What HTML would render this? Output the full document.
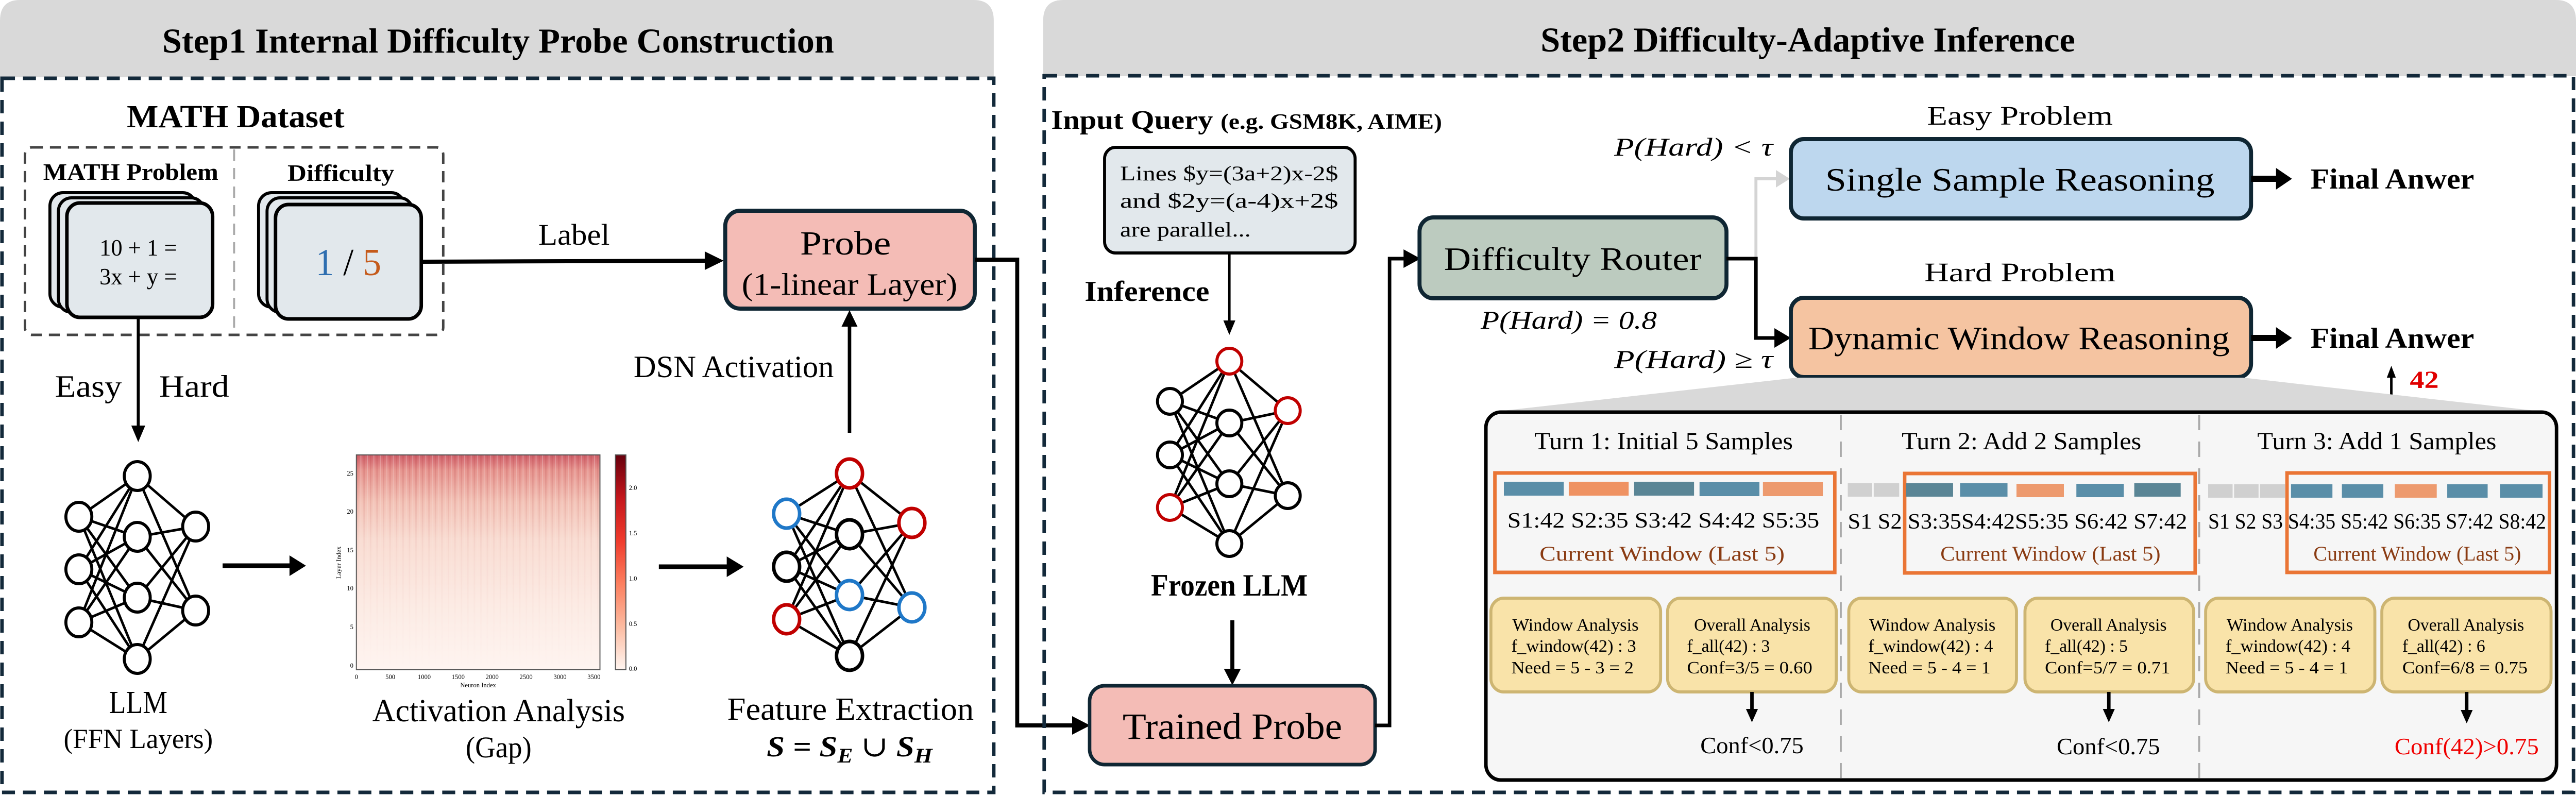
<!DOCTYPE html>
<html><head><meta charset="utf-8"><style>
html,body{margin:0;padding:0;background:#fff;overflow:hidden;width:100%;height:100%;}
svg{display:block;width:100vw;height:100vh;}
text{font-family:"Liberation Serif","DejaVu Serif",serif;fill:#000;}
</style></head><body>
<svg viewBox="0 0 5161 1545" preserveAspectRatio="none" xmlns="http://www.w3.org/2000/svg">
<defs>
<linearGradient id="hm" x1="0" y1="0" x2="0" y2="1">
<stop offset="0" stop-color="#d0606a"/><stop offset="0.07" stop-color="#e6958f"/><stop offset="0.22" stop-color="#f3c3b7"/><stop offset="0.4" stop-color="#f9ddd3"/><stop offset="0.7" stop-color="#fcebe4"/><stop offset="1" stop-color="#fef4f0"/>
</linearGradient>
<linearGradient id="cb" x1="0" y1="0" x2="0" y2="1">
<stop offset="0" stop-color="#67000d"/><stop offset="0.2" stop-color="#c4161c"/><stop offset="0.4" stop-color="#ef3b2c"/><stop offset="0.6" stop-color="#fc7f5f"/><stop offset="0.8" stop-color="#fcbba1"/><stop offset="1" stop-color="#fff5f0"/>
</linearGradient>
<pattern id="stripes" width="13" height="40" patternUnits="userSpaceOnUse">
<rect x="0" y="0" width="3" height="40" fill="#b0303a" opacity="0.18"/><rect x="7" y="0" width="2" height="40" fill="#fff" opacity="0.25"/>
</pattern>
<linearGradient id="fade" x1="0" y1="0" x2="0" y2="1"><stop offset="0" stop-color="#fff" stop-opacity="1"/><stop offset="0.45" stop-color="#fff" stop-opacity="0.2"/><stop offset="1" stop-color="#fff" stop-opacity="0"/></linearGradient>
<mask id="fm"><rect x="714" y="883" width="488" height="417" fill="url(#fade)"/></mask>
</defs>

<!-- STEP 1 -->
<path d="M0 150 V40 Q0 0 40 0 H1951 Q1991 0 1991 40 V150 Z" fill="#d9d9d9"/>
<text x="998" y="102" font-size="68" font-weight="bold" text-anchor="middle" textLength="1346" lengthAdjust="spacingAndGlyphs">Step1 Internal Difficulty Probe Construction</text>
<rect x="4" y="152" width="1987" height="1386" fill="none" stroke="#13293a" stroke-width="7" stroke-dasharray="26,16"/>

<text x="472" y="247" font-size="62" font-weight="bold" text-anchor="middle" textLength="436" lengthAdjust="spacingAndGlyphs">MATH Dataset</text>
<rect x="50" y="286" width="838" height="364" rx="14" fill="none" stroke="#444" stroke-width="5" stroke-dasharray="22,14"/>
<line x1="469" y1="290" x2="469" y2="648" stroke="#aaa" stroke-width="4" stroke-dasharray="22,14"/>
<text x="262" y="349" font-size="46" font-weight="bold" text-anchor="middle" textLength="351" lengthAdjust="spacingAndGlyphs">MATH Problem</text>
<text x="683" y="351" font-size="46" font-weight="bold" text-anchor="middle" textLength="214" lengthAdjust="spacingAndGlyphs">Difficulty</text>
<rect x="100" y="374" width="292" height="222" rx="26" fill="#e2e8ec" stroke="#000" stroke-width="6"/>
<rect x="117" y="384" width="292" height="222" rx="26" fill="#e2e8ec" stroke="#000" stroke-width="6"/>
<rect x="134" y="394" width="292" height="222" rx="26" fill="#e2e8ec" stroke="#000" stroke-width="7"/>
<text x="277" y="496" font-size="46" text-anchor="middle">10 + 1 =</text>
<text x="277" y="552" font-size="46" text-anchor="middle">3x + y =</text>
<rect x="518" y="374" width="292" height="222" rx="26" fill="#e2e8ec" stroke="#000" stroke-width="6"/>
<rect x="535" y="384" width="292" height="222" rx="26" fill="#e2e8ec" stroke="#000" stroke-width="6"/>
<rect x="552" y="397" width="292" height="222" rx="26" fill="#e2e8ec" stroke="#000" stroke-width="7"/>
<text x="698" y="534" font-size="74" text-anchor="middle"><tspan fill="#2e6eb0">1</tspan> / <tspan fill="#c55a1a">5</tspan></text>
<line x1="844" y1="508" x2="1415" y2="506" stroke="#000" stroke-width="8"/>
<polygon points="1412,488 1450,506 1412,524" fill="#000"/>
<text x="1150" y="475" font-size="58" text-anchor="middle" textLength="143" lengthAdjust="spacingAndGlyphs">Label</text>
<rect x="1453" y="409" width="500" height="190" rx="30" fill="#f4bcb6" stroke="#0f2633" stroke-width="8"/>
<text x="1694" y="494" font-size="66" text-anchor="middle" textLength="182" lengthAdjust="spacingAndGlyphs">Probe</text>
<text x="1702" y="572" font-size="60" text-anchor="middle" textLength="432" lengthAdjust="spacingAndGlyphs">(1-linear Layer)</text>
<line x1="1702" y1="840" x2="1702" y2="630" stroke="#000" stroke-width="7"/>
<polygon points="1686,634 1702,602 1718,634" fill="#000"/>
<text x="1470" y="732" font-size="60" text-anchor="middle" textLength="401" lengthAdjust="spacingAndGlyphs">DSN Activation</text>
<line x1="277" y1="616" x2="277" y2="828" stroke="#000" stroke-width="6"/>
<polygon points="263,826 277,858 291,826" fill="#000"/>
<text x="177" y="770" font-size="60" text-anchor="middle" textLength="134" lengthAdjust="spacingAndGlyphs">Easy</text>
<text x="389" y="770" font-size="60" text-anchor="middle" textLength="140" lengthAdjust="spacingAndGlyphs">Hard</text>

<path stroke="#000" stroke-width="5" fill="none" d="M158 1003L275 924M158 1003L275 1042M158 1003L275 1160M158 1003L275 1279M158 1105L275 924M158 1105L275 1042M158 1105L275 1160M158 1105L275 1279M158 1208L275 924M158 1208L275 1042M158 1208L275 1160M158 1208L275 1279M275 924L392 1022M275 924L392 1185M275 1042L392 1022M275 1042L392 1185M275 1160L392 1022M275 1160L392 1185M275 1279L392 1022M275 1279L392 1185"/>
<g fill="#fff" stroke="#000" stroke-width="6">
<ellipse cx="158" cy="1003" rx="26" ry="28"/><ellipse cx="158" cy="1105" rx="26" ry="28"/><ellipse cx="158" cy="1208" rx="26" ry="28"/>
<ellipse cx="275" cy="924" rx="26" ry="28"/><ellipse cx="275" cy="1042" rx="26" ry="28"/><ellipse cx="275" cy="1160" rx="26" ry="28"/><ellipse cx="275" cy="1279" rx="26" ry="28"/>
<ellipse cx="392" cy="1022" rx="26" ry="28"/><ellipse cx="392" cy="1185" rx="26" ry="28"/>
</g>
<text x="277" y="1384" font-size="62" text-anchor="middle" textLength="117" lengthAdjust="spacingAndGlyphs">LLM</text>
<text x="277" y="1452" font-size="54" text-anchor="middle" textLength="299" lengthAdjust="spacingAndGlyphs">(FFN Layers)</text>
<line x1="446" y1="1098" x2="585" y2="1098" stroke="#000" stroke-width="9"/>
<polygon points="580,1078 613,1098 580,1118" fill="#000"/>
<rect x="714" y="883" width="488" height="417" fill="url(#hm)"/>
<rect x="714" y="883" width="488" height="417" fill="url(#stripes)" mask="url(#fm)"/>
<rect x="714" y="883" width="488" height="417" fill="none" stroke="#555" stroke-width="2"/>
<rect x="1233" y="883" width="21" height="417" fill="url(#cb)" stroke="#555" stroke-width="2"/>
<g font-size="13" fill="#333">
<text x="714" y="1318" text-anchor="middle">0</text><text x="782" y="1318" text-anchor="middle">500</text><text x="850" y="1318" text-anchor="middle">1000</text><text x="918" y="1318" text-anchor="middle">1500</text><text x="986" y="1318" text-anchor="middle">2000</text><text x="1054" y="1318" text-anchor="middle">2500</text><text x="1122" y="1318" text-anchor="middle">3000</text><text x="1190" y="1318" text-anchor="middle">3500</text>
<text x="958" y="1334" text-anchor="middle">Neuron Index</text>
<text x="708" y="1296" text-anchor="end">0</text><text x="708" y="1221" text-anchor="end">5</text><text x="708" y="1146" text-anchor="end">10</text><text x="708" y="1072" text-anchor="end">15</text><text x="708" y="997" text-anchor="end">20</text><text x="708" y="923" text-anchor="end">25</text>
<text x="0" y="0" transform="translate(683,1092) rotate(-90)" text-anchor="middle">Layer Index</text>
<text x="1260" y="1302">0.0</text><text x="1260" y="1215">0.5</text><text x="1260" y="1127">1.0</text><text x="1260" y="1039">1.5</text><text x="1260" y="951">2.0</text>
</g>
<text x="999" y="1400" font-size="62" text-anchor="middle" textLength="506" lengthAdjust="spacingAndGlyphs">Activation Analysis</text>
<text x="999" y="1470" font-size="58" text-anchor="middle" textLength="132" lengthAdjust="spacingAndGlyphs">(Gap)</text>
<line x1="1320" y1="1100" x2="1460" y2="1100" stroke="#000" stroke-width="9"/>
<polygon points="1456,1080 1490,1100 1456,1120" fill="#000"/>
<path stroke="#000" stroke-width="5" fill="none" d="M1576 997L1702 919M1576 997L1702 1037M1576 997L1702 1155M1576 997L1702 1273M1576 1100L1702 919M1576 1100L1702 1037M1576 1100L1702 1155M1576 1100L1702 1273M1576 1202L1702 919M1576 1202L1702 1037M1576 1202L1702 1155M1576 1202L1702 1273M1702 919L1827 1015M1702 919L1827 1179M1702 1037L1827 1015M1702 1037L1827 1179M1702 1155L1827 1015M1702 1155L1827 1179M1702 1273L1827 1015M1702 1273L1827 1179"/>
<g fill="#fff" stroke-width="7">
<ellipse cx="1576" cy="997" rx="26" ry="28" stroke="#1f78c8"/><ellipse cx="1576" cy="1100" rx="26" ry="28" stroke="#000"/><ellipse cx="1576" cy="1202" rx="26" ry="28" stroke="#c00000"/>
<ellipse cx="1702" cy="919" rx="26" ry="28" stroke="#c00000"/><ellipse cx="1702" cy="1037" rx="26" ry="28" stroke="#000"/><ellipse cx="1702" cy="1155" rx="26" ry="28" stroke="#1f78c8"/><ellipse cx="1702" cy="1273" rx="26" ry="28" stroke="#000"/>
<ellipse cx="1827" cy="1015" rx="26" ry="28" stroke="#c00000"/><ellipse cx="1827" cy="1179" rx="26" ry="28" stroke="#1f78c8"/>
</g>
<text x="1704" y="1397" font-size="62" text-anchor="middle" textLength="494" lengthAdjust="spacingAndGlyphs">Feature Extraction</text>
<text x="1536" y="1468" font-size="56" font-weight="bold" font-style="italic" textLength="332" lengthAdjust="spacingAndGlyphs">S = S<tspan font-size="40" dy="12">E</tspan><tspan dy="-12" font-style="normal" font-weight="normal"> ∪ </tspan>S<tspan font-size="40" dy="12">H</tspan></text>

<polyline points="1953,504 2038,504 2038,1408 2150,1408" fill="none" stroke="#000" stroke-width="8"/>
<polygon points="2148,1390 2184,1408 2148,1426" fill="#000"/>

<!-- STEP 2 -->
<path d="M2090 148 V40 Q2090 0 2130 0 H5121 Q5161 0 5161 40 V148 Z" fill="#d9d9d9"/>
<text x="3622" y="100" font-size="68" font-weight="bold" text-anchor="middle" textLength="1071" lengthAdjust="spacingAndGlyphs">Step2 Difficulty-Adaptive Inference</text>
<rect x="2092" y="147" width="3064" height="1391" fill="none" stroke="#13293a" stroke-width="7" stroke-dasharray="26,16"/>

<text x="2106" y="250" font-size="52" font-weight="bold" textLength="783" lengthAdjust="spacingAndGlyphs">Input Query <tspan font-size="42">(e.g. GSM8K, AIME)</tspan></text>
<rect x="2213" y="286" width="502" height="205" rx="22" fill="#e2e8ec" stroke="#000" stroke-width="6"/>
<text x="2244" y="350" font-size="40" textLength="437" lengthAdjust="spacingAndGlyphs">Lines $y=(3a+2)x-2$</text>
<text x="2244" y="403" font-size="40" textLength="437" lengthAdjust="spacingAndGlyphs">and    $2y=(a-4)x+2$</text>
<text x="2244" y="459" font-size="40" textLength="262" lengthAdjust="spacingAndGlyphs">are parallel...</text>
<line x1="2463" y1="491" x2="2463" y2="625" stroke="#000" stroke-width="5"/>
<polygon points="2451,622 2463,650 2475,622" fill="#000"/>
<text x="2298" y="584" font-size="56" font-weight="bold" text-anchor="middle" textLength="250" lengthAdjust="spacingAndGlyphs">Inference</text>

<path stroke="#000" stroke-width="5" fill="none" d="M2344 779L2463 701M2344 779L2463 821M2344 779L2463 939M2344 779L2463 1055M2344 883L2463 701M2344 883L2463 821M2344 883L2463 939M2344 883L2463 1055M2344 985L2463 701M2344 985L2463 821M2344 985L2463 939M2344 985L2463 1055M2463 701L2580 797M2463 701L2580 962M2463 821L2580 797M2463 821L2580 962M2463 939L2580 797M2463 939L2580 962M2463 1055L2580 797M2463 1055L2580 962"/>
<g fill="#fff" stroke-width="6">
<circle cx="2344" cy="779" r="25" stroke="#000"/><circle cx="2344" cy="883" r="25" stroke="#000"/><circle cx="2344" cy="985" r="25" stroke="#c00000"/>
<circle cx="2463" cy="701" r="25" stroke="#c00000"/><circle cx="2463" cy="821" r="25" stroke="#000"/><circle cx="2463" cy="939" r="25" stroke="#000"/><circle cx="2463" cy="1055" r="25" stroke="#000"/>
<circle cx="2580" cy="797" r="25" stroke="#c00000"/><circle cx="2580" cy="962" r="25" stroke="#000"/>
</g>
<text x="2463" y="1156" font-size="60" font-weight="bold" text-anchor="middle" textLength="314" lengthAdjust="spacingAndGlyphs">Frozen LLM</text>
<line x1="2469" y1="1204" x2="2469" y2="1300" stroke="#000" stroke-width="8"/>
<polygon points="2452,1298 2469,1330 2486,1298" fill="#000"/>
<rect x="2183" y="1331" width="572" height="153" rx="30" fill="#f4bcb6" stroke="#0f2633" stroke-width="7"/>
<text x="2469" y="1434" font-size="72" text-anchor="middle" textLength="440" lengthAdjust="spacingAndGlyphs">Trained Probe</text>
<polyline points="2755,1408 2784,1408 2784,502 2815,502" fill="none" stroke="#000" stroke-width="7"/>
<polygon points="2812,484 2846,502 2812,520" fill="#000"/>

<rect x="2844" y="422" width="615" height="157" rx="28" fill="#bccbbf" stroke="#0f2633" stroke-width="8"/>
<text x="3151" y="524" font-size="64" text-anchor="middle" textLength="516" lengthAdjust="spacingAndGlyphs">Difficulty Router</text>
<text x="3143" y="638" font-size="50" font-style="italic" text-anchor="middle" textLength="353" lengthAdjust="spacingAndGlyphs">P(Hard) = 0.8</text>
<polyline points="3518,502 3518,347 3560,347" fill="none" stroke="#d4d4d4" stroke-width="6"/>
<polygon points="3558,330 3586,347 3558,364" fill="#d4d4d4"/>
<polyline points="3459,502 3518,502 3518,656 3558,656" fill="none" stroke="#000" stroke-width="7"/>
<polygon points="3555,637 3588,656 3555,675" fill="#000"/>
<text x="3552" y="302" font-size="50" font-style="italic" text-anchor="end" textLength="318" lengthAdjust="spacingAndGlyphs">P(Hard) &lt; τ</text>
<text x="3552" y="714" font-size="50" font-style="italic" text-anchor="end" textLength="318" lengthAdjust="spacingAndGlyphs">P(Hard) ≥ τ</text>

<text x="4047" y="242" font-size="52" text-anchor="middle" textLength="372" lengthAdjust="spacingAndGlyphs">Easy Problem</text>
<rect x="3588" y="270" width="922" height="154" rx="26" fill="#bdd7ee" stroke="#0f2633" stroke-width="8"/>
<text x="4047" y="370" font-size="64" text-anchor="middle" textLength="780" lengthAdjust="spacingAndGlyphs">Single Sample Reasoning</text>
<text x="4047" y="546" font-size="52" text-anchor="middle" textLength="383" lengthAdjust="spacingAndGlyphs">Hard Problem</text>
<rect x="3588" y="578" width="922" height="154" rx="26" fill="#f5c4a1" stroke="#0f2633" stroke-width="8"/>
<text x="4045" y="678" font-size="64" text-anchor="middle" textLength="844" lengthAdjust="spacingAndGlyphs">Dynamic Window Reasoning</text>

<line x1="4510" y1="347" x2="4565" y2="347" stroke="#000" stroke-width="12"/>
<polygon points="4560,326 4592,347 4560,368" fill="#000"/>
<text x="4629" y="366" font-size="56" font-weight="bold" textLength="328" lengthAdjust="spacingAndGlyphs">Final Anwer</text>
<line x1="4510" y1="656" x2="4565" y2="656" stroke="#000" stroke-width="12"/>
<polygon points="4560,635 4592,656 4560,677" fill="#000"/>
<text x="4629" y="675" font-size="56" font-weight="bold" textLength="328" lengthAdjust="spacingAndGlyphs">Final Anwer</text>
<line x1="4791" y1="767" x2="4791" y2="730" stroke="#000" stroke-width="5"/>
<polygon points="4782,733 4791,710 4800,733" fill="#000"/>
<text x="4828" y="753" font-size="48" font-weight="bold" style="fill:#e00000" textLength="58" lengthAdjust="spacingAndGlyphs">42</text>

<polygon points="3600,733 4494,733 5105,800 2985,800" fill="#d9d9d9"/>

<rect x="2977" y="800" width="2145" height="714" rx="30" fill="#f6f6f6" stroke="#000" stroke-width="7"/>
<line x1="3688" y1="805" x2="3688" y2="1510" stroke="#aaa" stroke-width="4" stroke-dasharray="30,22"/>
<line x1="4406" y1="805" x2="4406" y2="1510" stroke="#aaa" stroke-width="4" stroke-dasharray="30,22"/>

<text x="3333" y="872" font-size="48" text-anchor="middle" textLength="518" lengthAdjust="spacingAndGlyphs">Turn 1: Initial 5 Samples</text>
<text x="4050" y="872" font-size="48" text-anchor="middle" textLength="480" lengthAdjust="spacingAndGlyphs">Turn 2: Add 2 Samples</text>
<text x="4762" y="872" font-size="48" text-anchor="middle" textLength="479" lengthAdjust="spacingAndGlyphs">Turn 3: Add 1 Samples</text>

<g fill="none" stroke="#ea7535" stroke-width="7">
<rect x="2995" y="918" width="681" height="193"/>
<rect x="3816" y="919" width="582" height="193"/>
<rect x="4582" y="918" width="526" height="193"/>
</g>
<g>
<rect x="3013" y="935" width="120" height="27" fill="#5a8ea8"/><rect x="3143" y="935" width="120" height="27" fill="#ef9262"/><rect x="3274" y="935" width="120" height="27" fill="#5a8595"/><rect x="3405" y="936" width="120" height="27" fill="#5a8ea8"/><rect x="3532" y="936" width="120" height="27" fill="#ed9a6e"/>
<rect x="3702" y="938" width="49" height="26" fill="#d0d0d0"/><rect x="3754" y="938" width="51" height="26" fill="#d0d0d0"/>
<rect x="3819" y="938" width="94" height="26" fill="#5a8595"/><rect x="3927" y="938" width="95" height="26" fill="#5a8ea8"/><rect x="4040" y="939" width="95" height="26" fill="#ed9a6e"/><rect x="4160" y="939" width="95" height="26" fill="#5a8ea8"/><rect x="4276" y="938" width="93" height="26" fill="#5a8595"/>
<rect x="4424" y="940" width="49" height="26" fill="#d0d0d0"/><rect x="4476" y="940" width="49" height="26" fill="#d0d0d0"/><rect x="4528" y="940" width="50" height="26" fill="#d0d0d0"/>
<rect x="4590" y="940" width="83" height="26" fill="#5a8ea8"/><rect x="4692" y="940" width="83" height="26" fill="#5a8ea8"/><rect x="4798" y="940" width="84" height="26" fill="#ed9a6e"/><rect x="4903" y="940" width="81" height="26" fill="#5a8ea8"/><rect x="5009" y="940" width="85" height="26" fill="#5a8ea8"/>
</g>
<g font-size="42">
<text x="3020" y="1024" textLength="625" lengthAdjust="spacingAndGlyphs">S1:42  S2:35  S3:42  S4:42  S5:35</text>
<text x="3702" y="1026" textLength="680" lengthAdjust="spacingAndGlyphs">S1 S2 S3:35S4:42S5:35 S6:42 S7:42</text>
<text x="4424" y="1026" textLength="677" lengthAdjust="spacingAndGlyphs">S1 S2 S3 S4:35 S5:42 S6:35 S7:42 S8:42</text>
</g>
<g font-size="40" text-anchor="middle">
<text x="3330" y="1088" style="fill:#8a3b12" textLength="491" lengthAdjust="spacingAndGlyphs">Current Window (Last 5)</text>
<text x="4108" y="1088" style="fill:#8a3b12" textLength="441" lengthAdjust="spacingAndGlyphs">Current Window (Last 5)</text>
<text x="4843" y="1088" style="fill:#8a3b12" textLength="416" lengthAdjust="spacingAndGlyphs">Current Window (Last 5)</text>
</g>

<g fill="#f9e3a9" stroke="#cdb572" stroke-width="6">
<rect x="2987" y="1161" width="340" height="182" rx="26"/><rect x="3341" y="1161" width="338" height="182" rx="26"/>
<rect x="3704" y="1161" width="336" height="182" rx="26"/><rect x="4057" y="1161" width="338" height="182" rx="26"/>
<rect x="4419" y="1161" width="339" height="182" rx="26"/><rect x="4772" y="1161" width="339" height="182" rx="26"/>
</g>
<g font-size="34">
<text x="3030" y="1224" textLength="253" lengthAdjust="spacingAndGlyphs">Window Analysis</text>
<text x="3028" y="1265" textLength="250" lengthAdjust="spacingAndGlyphs">f_window(42) : 3</text>
<text x="3028" y="1307" textLength="245" lengthAdjust="spacingAndGlyphs">Need = 5 - 3 = 2</text>
<text x="3394" y="1224" textLength="233" lengthAdjust="spacingAndGlyphs">Overall Analysis</text>
<text x="3380" y="1265" textLength="166" lengthAdjust="spacingAndGlyphs">f_all(42) : 3</text>
<text x="3380" y="1307" textLength="251" lengthAdjust="spacingAndGlyphs">Conf=3/5 = 0.60</text>
<text x="3745" y="1224" textLength="253" lengthAdjust="spacingAndGlyphs">Window Analysis</text>
<text x="3743" y="1265" textLength="250" lengthAdjust="spacingAndGlyphs">f_window(42) : 4</text>
<text x="3743" y="1307" textLength="245" lengthAdjust="spacingAndGlyphs">Need = 5 - 4 = 1</text>
<text x="4108" y="1224" textLength="233" lengthAdjust="spacingAndGlyphs">Overall Analysis</text>
<text x="4097" y="1265" textLength="166" lengthAdjust="spacingAndGlyphs">f_all(42) : 5</text>
<text x="4097" y="1307" textLength="251" lengthAdjust="spacingAndGlyphs">Conf=5/7 = 0.71</text>
<text x="4461" y="1224" textLength="253" lengthAdjust="spacingAndGlyphs">Window Analysis</text>
<text x="4459" y="1265" textLength="250" lengthAdjust="spacingAndGlyphs">f_window(42) : 4</text>
<text x="4459" y="1307" textLength="245" lengthAdjust="spacingAndGlyphs">Need = 5 - 4 = 1</text>
<text x="4824" y="1224" textLength="233" lengthAdjust="spacingAndGlyphs">Overall Analysis</text>
<text x="4813" y="1265" textLength="166" lengthAdjust="spacingAndGlyphs">f_all(42) : 6</text>
<text x="4813" y="1307" textLength="251" lengthAdjust="spacingAndGlyphs">Conf=6/8 = 0.75</text>
</g>
<g stroke="#000" stroke-width="7">
<line x1="3510" y1="1343" x2="3510" y2="1380"/><line x1="4225" y1="1343" x2="4225" y2="1380"/><line x1="4942" y1="1343" x2="4942" y2="1382"/>
</g>
<polygon points="3498,1376 3510,1402 3522,1376" fill="#000"/>
<polygon points="4213,1376 4225,1402 4237,1376" fill="#000"/>
<polygon points="4930,1378 4942,1404 4954,1378" fill="#000"/>
<text x="3510" y="1462" font-size="46" text-anchor="middle" textLength="207" lengthAdjust="spacingAndGlyphs">Conf&lt;0.75</text>
<text x="4224" y="1464" font-size="46" text-anchor="middle" textLength="207" lengthAdjust="spacingAndGlyphs">Conf&lt;0.75</text>
<text x="4942" y="1464" font-size="46" text-anchor="middle" style="fill:#f00000" textLength="289" lengthAdjust="spacingAndGlyphs">Conf(42)&gt;0.75</text>
</svg>
</body></html>
